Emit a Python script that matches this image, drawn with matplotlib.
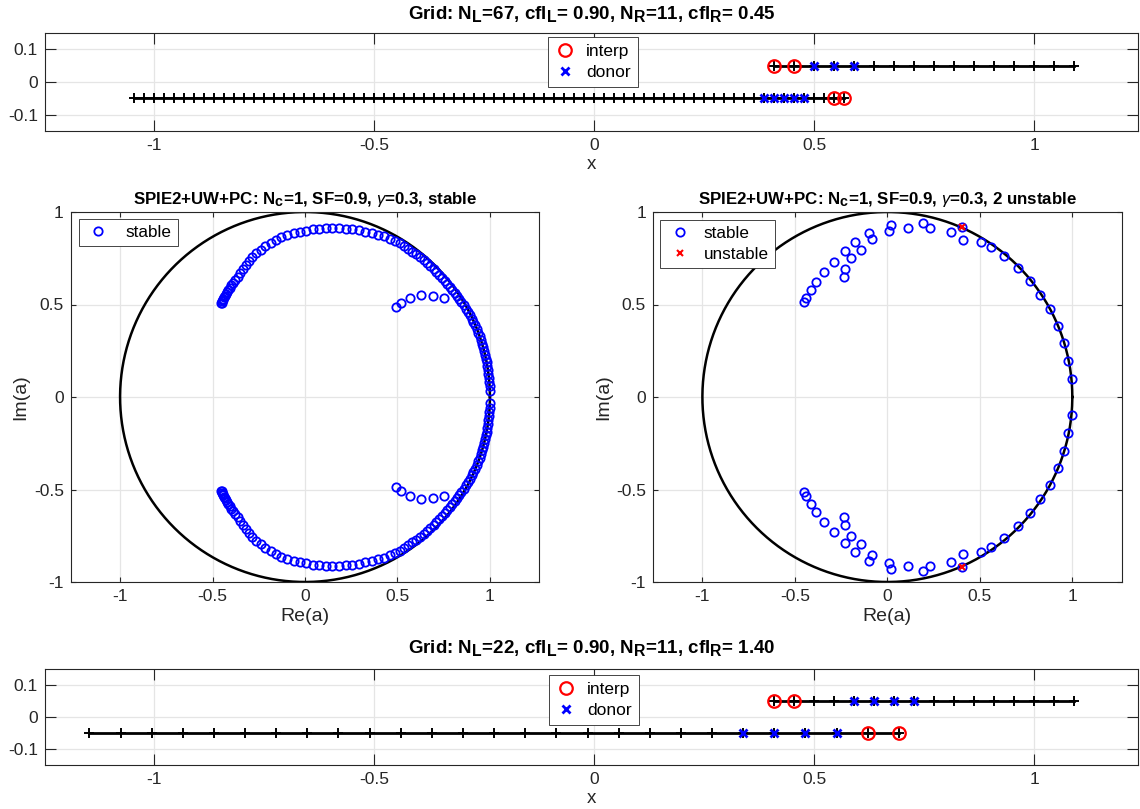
import numpy as np
import matplotlib
matplotlib.use('Agg')
import matplotlib.pyplot as plt
from matplotlib.lines import Line2D
try:
    import matplotlib._mathtext as _mt
    _mt.SHRINK_FACTOR = 0.85
except Exception:
    pass

plt.rcParams['font.family'] = ['Liberation Sans', 'DejaVu Sans']
plt.rcParams['mathtext.fontset'] = 'custom'
plt.rcParams['mathtext.rm'] = 'Liberation Sans'
plt.rcParams['mathtext.it'] = 'Liberation Sans:italic'
plt.rcParams['mathtext.bf'] = 'Liberation Sans:bold'
plt.rcParams['axes.unicode_minus'] = False

# ---------------- data ----------------
# top grid panel (N_L=67, cfl_L=0.90, N_R=11, cfl_R=0.45)
top_left_x = [-1.045, -1.023, -1.000, -0.977, -0.955, -0.932, -0.909, -0.886, -0.864, -0.841,
              -0.818, -0.795, -0.773, -0.750, -0.727, -0.705, -0.682, -0.659, -0.636, -0.614,
              -0.591, -0.568, -0.545, -0.523, -0.500, -0.477, -0.455, -0.432, -0.409, -0.386,
              -0.364, -0.341, -0.318, -0.295, -0.273, -0.250, -0.227, -0.205, -0.182, -0.159,
              -0.136, -0.114, -0.091, -0.068, -0.045, -0.023, 0.000, 0.023, 0.045, 0.068,
              0.091, 0.114, 0.136, 0.159, 0.182, 0.205, 0.227, 0.250, 0.273, 0.295,
              0.318, 0.341, 0.364, 0.386, 0.409, 0.432, 0.455, 0.477, 0.500, 0.523,
              0.545, 0.568]
top_left_donor = [0.386, 0.409, 0.432, 0.455, 0.477]
top_left_interp = [0.545, 0.568]
right_grid_x = [0.409, 0.455, 0.500, 0.545, 0.591, 0.636, 0.682, 0.727, 0.773, 0.818,
                0.864, 0.909, 0.955, 1.000, 1.045, 1.091]
top_right_donor = [0.500, 0.545, 0.591]
top_right_interp = [0.409, 0.455]

# bottom grid panel (N_L=22, cfl_L=0.90, N_R=11, cfl_R=1.40)
bot_left_x = [-1.147, -1.076, -1.005, -0.935, -0.864, -0.793, -0.722, -0.652, -0.581, -0.510,
              -0.440, -0.369, -0.298, -0.227, -0.157, -0.086, -0.015, 0.056, 0.126, 0.197,
              0.268, 0.339, 0.409, 0.480, 0.551, 0.622, 0.692]
bot_left_donor = [0.339, 0.409, 0.480, 0.551]
bot_left_interp = [0.622, 0.692]
bot_right_donor = [0.591, 0.636, 0.682, 0.727]
bot_right_interp = [0.409, 0.455]

# left eigenvalue plot, outer branch (upper half; lower half is the complex conjugate)
outer_ang_deg = [131.8, 131.4, 130.9, 130.4, 129.8, 129.1, 128.4, 127.6, 126.7, 125.7,
                 124.6, 123.4, 122.1, 120.7, 119.2, 117.6, 116.0, 114.3, 112.5, 110.6,
                 108.7, 106.7, 104.7, 102.6, 100.5, 98.4, 96.2, 94.0, 91.8, 89.6,
                 87.4, 85.2, 83.0, 80.8, 78.6, 76.4, 74.2, 72.0, 69.9, 67.8,
                 65.8, 63.8, 61.9, 60.1, 58.4, 56.7, 55.1, 53.5, 52.0, 50.5,
                 49.0, 47.6, 46.2, 44.8, 43.5, 42.2, 40.9, 39.6, 38.4, 37.2,
                 36.0, 34.8, 33.6, 32.4, 31.2, 30.0, 28.8, 27.6, 26.4, 25.2,
                 24.0, 22.8, 21.6, 20.4, 19.2, 18.0, 16.8, 15.6, 14.4, 13.2,
                 12.0, 10.8, 9.6, 8.4, 7.2, 6.0, 4.8, 3.5, 2.0]
outer_mag = [0.678, 0.680, 0.683, 0.686, 0.689, 0.694, 0.698, 0.702, 0.707, 0.713,
             0.718, 0.723, 0.729, 0.737, 0.746, 0.757, 0.769, 0.781, 0.795, 0.808,
             0.820, 0.832, 0.844, 0.854, 0.864, 0.873, 0.881, 0.888, 0.894, 0.900,
             0.907, 0.913, 0.919, 0.924, 0.930, 0.936, 0.942, 0.947, 0.951, 0.956,
             0.962, 0.967, 0.971, 0.975, 0.977, 0.977, 0.977, 0.977, 0.978, 0.978,
             0.978, 0.979, 0.980, 0.980, 0.980, 0.981, 0.981, 0.981, 0.982, 0.983,
             0.984, 0.985, 0.986, 0.987, 0.989, 0.990, 0.992, 0.993, 0.995, 0.996,
             0.997, 0.998, 0.999, 1.000, 1.000, 1.000, 1.000, 1.000, 1.000, 1.000,
             1.000, 1.000, 1.000, 1.000, 1.000, 1.000, 1.000, 1.000, 1.000]
# left eigenvalue plot, inner branch (upper half)
inner_re = [0.490, 0.521, 0.570, 0.629, 0.692, 0.751]
inner_im = [0.485, 0.510, 0.533, 0.551, 0.546, 0.533]

# right eigenvalue plot (upper half; lower half is the complex conjugate)
r_re = [-0.449, -0.440, -0.415, -0.386, -0.345, -0.290, -0.236, -0.229, -0.227, -0.195,
        -0.173, -0.144, -0.099, -0.081, 0.009, 0.022, 0.114, 0.192, 0.233, 0.343,
        0.404, 0.408, 0.504, 0.560, 0.630, 0.706, 0.769, 0.827, 0.877, 0.921,
        0.957, 0.978, 0.996]
r_im = [0.511, 0.536, 0.576, 0.623, 0.675, 0.729, 0.650, 0.693, 0.789, 0.749,
        0.838, 0.794, 0.885, 0.854, 0.897, 0.928, 0.913, 0.942, 0.912, 0.892,
        0.921, 0.847, 0.836, 0.811, 0.760, 0.695, 0.628, 0.554, 0.473, 0.385,
        0.293, 0.197, 0.099]
unstable_re = [0.404, 0.404]
unstable_im = [0.921, -0.921]

# ---------------- figure ----------------
W, H = 1140, 809
fig = plt.figure(figsize=(W / 100, H / 100), dpi=100)

AXC = '#262626'
GRIDC = '#e5e5e5'
TICK_FS = 12.5


def add_ax(l, t, r, b):
    return fig.add_axes([l / W, 1 - b / H, (r - l) / W, (b - t) / H])


def style(ax, ticklen):
    ax.grid(True, color=GRIDC, linewidth=0.9)
    ax.set_axisbelow(True)
    ax.tick_params(direction='in', top=True, right=True, length=ticklen, width=0.8,
                   color=AXC, labelcolor=AXC, labelsize=TICK_FS, pad=5)
    for s in ax.spines.values():
        s.set_color(AXC)
        s.set_linewidth(0.8)


def finish_legend(leg):
    leg.get_frame().set_edgecolor(AXC)
    leg.get_frame().set_linewidth(0.6)


def grid_panel(ax, lx, ldon, lint, rdon, rint, title, title_pad, leg_anchor):
    ax.plot(lx, np.full(len(lx), -0.05), 'k-', marker='+', lw=2, ms=7, mew=1.4)
    ax.plot(right_grid_x, np.full(len(right_grid_x), 0.05), 'k-', marker='+', lw=2, ms=7, mew=1.4)
    ax.plot(lint, np.full(len(lint), -0.05), 'o', mfc='none', mec='red', ms=9, mew=1.6, ls='none')
    ax.plot(rint, np.full(len(rint), 0.05), 'o', mfc='none', mec='red', ms=9, mew=1.6, ls='none')
    ax.plot(ldon, np.full(len(ldon), -0.05), 'x', color='blue', ms=6, mew=2, ls='none')
    ax.plot(rdon, np.full(len(rdon), 0.05), 'x', color='blue', ms=6, mew=2, ls='none')
    ax.set_xlim(-1.248, 1.236)
    ax.set_ylim(-0.15, 0.15)
    ax.set_xticks([-1, -0.5, 0, 0.5, 1])
    ax.set_xticklabels(['-1', '-0.5', '0', '0.5', '1'])
    ax.set_yticks([-0.1, 0, 0.1])
    ax.set_yticklabels(['-0.1', '0', '0.1'])
    style(ax, 8)
    ax.set_xlabel('x', fontsize=13.5, color=AXC, labelpad=2)
    ax.set_title(title, fontsize=13.5, fontweight='bold', color='black', pad=title_pad)
    handles = [Line2D([], [], marker='o', mfc='none', mec='red', ms=9, mew=1.6, ls='none'),
               Line2D([], [], marker='x', color='blue', ms=6, mew=2, ls='none')]
    finish_legend(ax.legend(handles, ['interp', 'donor'], loc='upper left', bbox_to_anchor=leg_anchor,
                            borderaxespad=0, fancybox=False, framealpha=1, fontsize=12.5,
                            handlelength=1.2, handletextpad=0.6, borderpad=0.4, labelspacing=0.35))


def eig_panel(ax, title):
    th = np.linspace(0, 2 * np.pi, 500)
    ax.plot(np.cos(th), np.sin(th), 'k-', lw=1.8, zorder=2)
    ax.set_xlim(-1.267, 1.267)
    ax.set_ylim(-1, 1)
    ax.set_xticks([-1, -0.5, 0, 0.5, 1])
    ax.set_xticklabels(['-1', '-0.5', '0', '0.5', '1'])
    ax.set_yticks([-1, -0.5, 0, 0.5, 1])
    ax.set_yticklabels(['-1', '-0.5', '0', '0.5', '1'])
    style(ax, 3.5)
    ax.set_xlabel('Re(a)', fontsize=14, color=AXC, labelpad=3)
    ax.set_ylabel('Im(a)', fontsize=14, color=AXC, labelpad=3)
    ax.set_title(title, fontsize=12.2, fontweight='bold', color='black', pad=6)


# top panel
ax1 = add_ax(45, 33, 1138, 131)
grid_panel(ax1, top_left_x, top_left_donor, top_left_interp, top_right_donor, top_right_interp,
           r'Grid: N$_{\mathbf{L}}$=67, cfl$_{\mathbf{L}}$= 0.90, N$_{\mathbf{R}}$=11, cfl$_{\mathbf{R}}$= 0.45',
           10, (0.46, 0.96))

# bottom panel
ax4 = add_ax(45, 669, 1138, 765)
grid_panel(ax4, bot_left_x, bot_left_donor, bot_left_interp, bot_right_donor, bot_right_interp,
           r'Grid: N$_{\mathbf{L}}$=22, cfl$_{\mathbf{L}}$= 0.90, N$_{\mathbf{R}}$=11, cfl$_{\mathbf{R}}$= 1.40',
           11.5, (0.461, 0.94))

# left eigenvalue panel
ax2 = add_ax(70.7, 212, 539.3, 582)
eig_panel(ax2, r'SPIE2+UW+PC: N$_{\mathbf{c}}$=1, SF=0.9, $\gamma$=0.3, stable')
ang = np.deg2rad(outer_ang_deg)
mag = np.array(outer_mag)
o_re = mag * np.cos(ang)
o_im = mag * np.sin(ang)
L_re = np.concatenate([o_re, inner_re, o_re, inner_re])
L_im = np.concatenate([o_im, inner_im, -o_im, -np.array(inner_im)])
ax2.plot(L_re, L_im, 'o', mfc='none', mec='blue', ms=6, mew=1.3, ls='none', zorder=3, label='stable')
finish_legend(ax2.legend(loc='upper left', bbox_to_anchor=(0.017, 0.98), borderaxespad=0,
                         fancybox=False, framealpha=1, fontsize=12.3, handlelength=1.6,
                         handletextpad=0.8, borderpad=0.35))

# right eigenvalue panel
ax3 = add_ax(653, 212, 1121.7, 582)
eig_panel(ax3, r'SPIE2+UW+PC: N$_{\mathbf{c}}$=1, SF=0.9, $\gamma$=0.3, 2 unstable')
R_re = np.concatenate([r_re, r_re])
R_im = np.concatenate([r_im, -np.array(r_im)])
ax3.plot(R_re, R_im, 'o', mfc='none', mec='blue', ms=6, mew=1.3, ls='none', zorder=3, label='stable')
ax3.plot(unstable_re, unstable_im, 'x', color='red', ms=4, mew=1.5, ls='none', zorder=4, label='unstable')
finish_legend(ax3.legend(loc='upper left', bbox_to_anchor=(0.015, 0.978), borderaxespad=0,
                         fancybox=False, framealpha=1, fontsize=12.3, handlelength=1.6,
                         handletextpad=0.6, borderpad=0.35, labelspacing=0.35))

fig.savefig('out.png', dpi=100)
